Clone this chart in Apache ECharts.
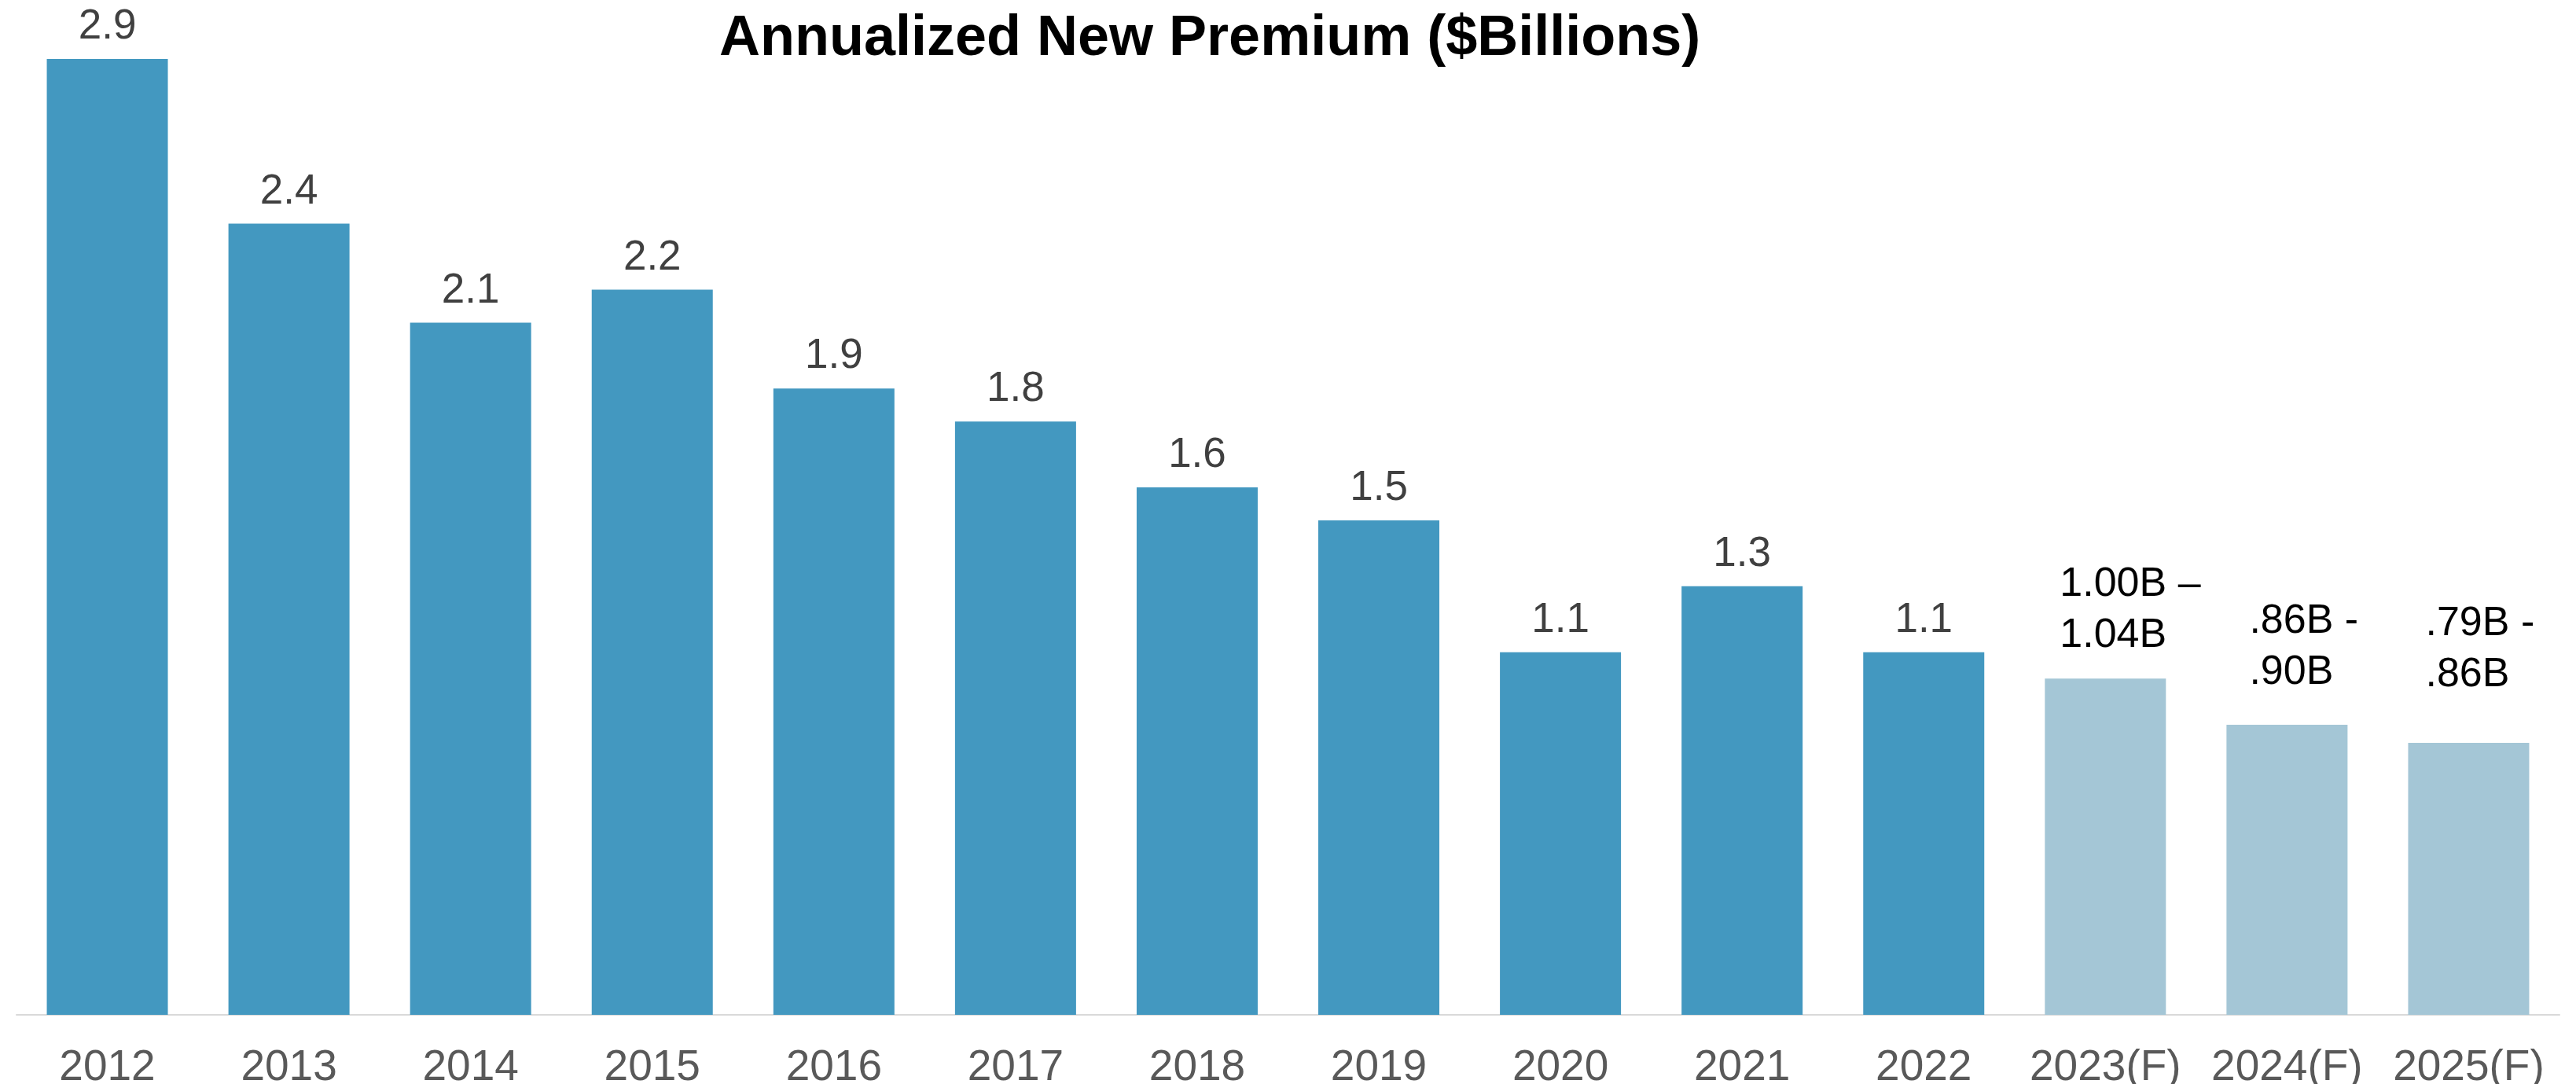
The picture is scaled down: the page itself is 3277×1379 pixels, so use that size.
<!DOCTYPE html>
<html>
<head>
<meta charset="utf-8">
<title>Annualized New Premium</title>
<script src="https://cdn.jsdelivr.net/npm/echarts@6/dist/echarts.min.js"></script>
<style>
  html, body { margin: 0; padding: 0; background: #ffffff; }
  #chart { width: 3277px; height: 1379px; }
</style>
</head>
<body>
<div id="chart"></div>
<script>
// Years shown on the category axis
const years = ['2012', '2013', '2014', '2015', '2016', '2017', '2018', '2019',
               '2020', '2021', '2022', '2023(F)', '2024(F)', '2025(F)'];

// Reported annualized new premium, $ billions (null where only a forecast exists)
const actualValues = [2.9, 2.4, 2.1, 2.2, 1.9, 1.8, 1.6, 1.5, 1.1, 1.3, 1.1,
                      null, null, null];

// Forecast bar heights, $ billions (centre of each guidance range)
const forecastValues = [null, null, null, null, null, null, null, null, null, null, null,
                        1.02, 0.88, 0.825];

// Guidance range text shown above each forecast bar
const forecastLabels = [null, null, null, null, null, null, null, null, null, null, null,
                        '1.00B –\n1.04B', '.86B -\n.90B', '.79B -\n.86B'];

// Label placement for the forecast range text (x, y shift from the bar top centre)
const forecastLabelOffsets = { 11: [-58, -22], 12: [-48, -34], 13: [-55, -54] };

const FONT = '"Liberation Sans", Arial, Helvetica, sans-serif';
const ACTUAL_COLOR = '#4398C0';
const FORECAST_COLOR = '#A4C6D6';

const chart = echarts.init(document.getElementById('chart'), null, { renderer: 'canvas' });

const forecastData = forecastValues.map((v, i) => {
  if (v === null) return null;
  const off = forecastLabelOffsets[i] || [0, 0];
  return {
    value: v,
    label: {
      show: true,
      position: 'top',
      distance: 0,
      align: 'left',
      verticalAlign: 'bottom',
      offset: off,
      formatter: forecastLabels[i],
      color: '#000000',
      fontFamily: FONT,
      fontSize: 52,
      lineHeight: 65
    }
  };
});

chart.setOption({
  animation: false,
  backgroundColor: '#ffffff',
  title: {
    text: 'Annualized New Premium ($Billions)',
    left: 910,
    top: 9,
    textStyle: {
      fontFamily: FONT,
      fontSize: 72,
      fontWeight: 'bold',
      color: '#000000'
    }
  },
  grid: {
    left: 21,
    right: 21,
    top: 33,
    bottom: 88,
    containLabel: false,
    outerBoundsMode: 'none'
  },
  xAxis: {
    type: 'category',
    data: years,
    axisTick: { show: false },
    axisLine: { show: true, lineStyle: { color: '#D9D9D9', width: 2 } },
    axisLabel: {
      interval: 0,
      margin: 40,
      color: '#595959',
      fontFamily: FONT,
      fontSize: 55
    }
  },
  yAxis: {
    type: 'value',
    min: 0,
    max: 3,
    show: false,
    splitLine: { show: false }
  },
  series: [
    {
      name: 'Actual',
      type: 'bar',
      stack: 'premium',
      barWidth: 154,
      data: actualValues,
      itemStyle: { color: ACTUAL_COLOR },
      label: {
        show: true,
        position: 'top',
        distance: 14,
        color: '#404040',
        fontFamily: FONT,
        fontSize: 53,
        formatter: p => p.value == null ? '' : p.value.toFixed(1)
      }
    },
    {
      name: 'Forecast',
      type: 'bar',
      stack: 'premium',
      barWidth: 154,
      data: forecastData,
      itemStyle: { color: FORECAST_COLOR }
    }
  ]
});
</script>
</body>
</html>
